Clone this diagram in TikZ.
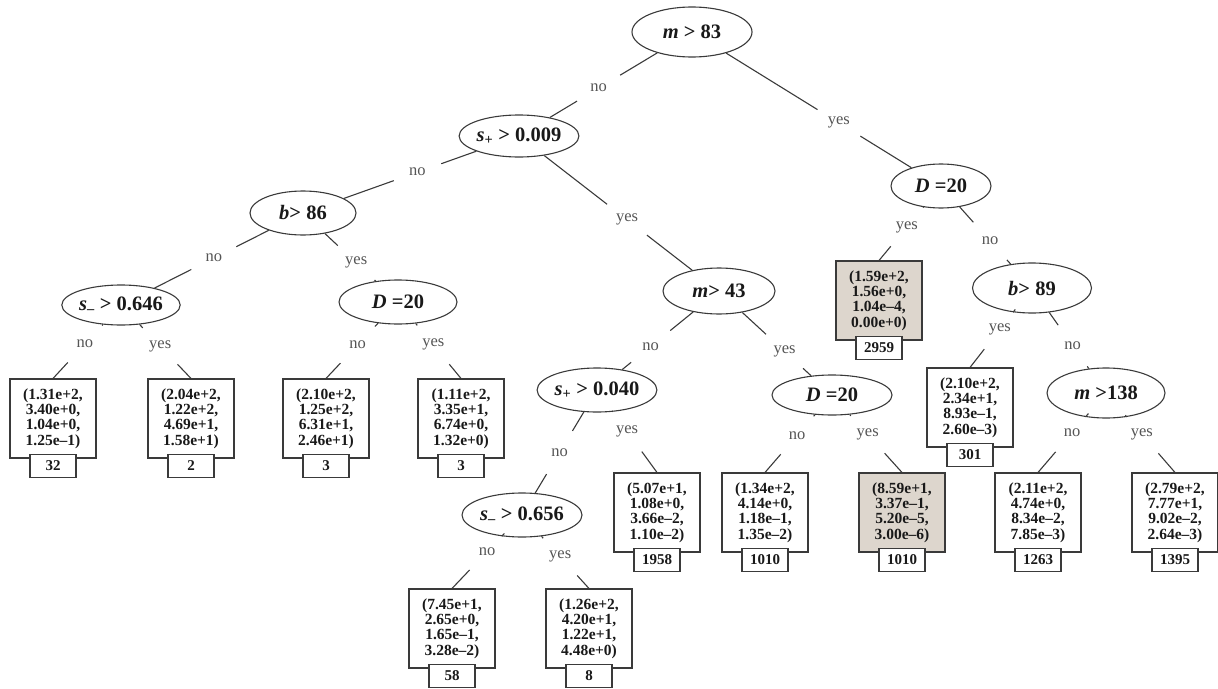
\documentclass[tikz,border=0pt]{standalone}
\usepackage{fontspec}
\setmainfont{Liberation Serif}
\usetikzlibrary{shapes.geometric,calc}
\definecolor{ln}{HTML}{3A3A3A}
\definecolor{lb}{HTML}{555555}
\definecolor{gf}{HTML}{DDD6CD}
\begin{document}
\begin{tikzpicture}[x=1pt,y=-1pt,
  cond/.style={ellipse, draw=ln, line width=1.1pt, inner sep=0pt, font=\fontsize{20.5}{23}\selectfont\bfseries, text=black!90},
  leaf/.style={draw=ln, line width=1.1pt, minimum width=86pt, minimum height=79pt, inner sep=0pt, align=center, font=\fontsize{15.5}{15.4}\selectfont\bfseries, text=black!90},
  gleaf/.style={leaf, fill=gf},
  cnt/.style={draw=ln, line width=1.1pt, fill=white, minimum width=46pt, minimum height=23pt, inner sep=0pt, font=\fontsize{15}{16}\selectfont\bfseries, text=black!90},
  lab/.style={circle, minimum size=50pt, inner sep=0pt, font=\fontsize{16.5}{18}\selectfont, text=lb},
  edge/.style={draw=ln, line width=1.1pt}]
\useasboundingbox (0,0) rectangle (1218,688);
% condition nodes
\node[cond, minimum width=120pt, minimum height=50pt] (root) at (692,32) {\textit{m} > 83};
\node[cond, minimum width=118pt, minimum height=42pt] (s009) at (519,136) {\textit{s}\textsubscript{+} > 0.009};
\node[cond, minimum width=100pt, minimum height=44pt] (Dr) at (941,186) {\textit{D} =20};
\node[cond, minimum width=106pt, minimum height=44pt] (b86) at (303,213) {\textit{b}> 86};
\node[cond, minimum width=112pt, minimum height=46pt] (m43) at (719,291) {\textit{m}> 43};
\node[cond, minimum width=117pt, minimum height=40pt] (s646) at (121,305) {\textit{s}\textsubscript{--} > 0.646};
\node[cond, minimum width=118pt, minimum height=44pt] (Dl) at (398,302) {\textit{D} =20};
\node[cond, minimum width=119pt, minimum height=50pt] (b89) at (1032,288) {\textit{b}> 89};
\node[cond, minimum width=114pt, minimum height=44pt] (s040) at (597,390) {\textit{s}\textsubscript{+} > 0.040};
\node[cond, minimum width=120pt, minimum height=40pt] (Dc) at (832,395) {\textit{D} =20};
\node[cond, minimum width=118pt, minimum height=50pt] (m138) at (1106,393) {\textit{m} >138};
\node[cond, minimum width=120pt, minimum height=44pt] (s656) at (522,515) {\textit{s}\textsubscript{--} > 0.656};
% leaves
\node[leaf] (l32) at (53,418.5) {(1.31e+2,\\3.40e+0,\\1.04e+0,\\1.25e--1)};
\node[leaf] (l2) at (191,418.5) {(2.04e+2,\\1.22e+2,\\4.69e+1,\\1.58e+1)};
\node[leaf] (l3a) at (326,418.5) {(2.10e+2,\\1.25e+2,\\6.31e+1,\\2.46e+1)};
\node[leaf] (l3b) at (461,418.5) {(1.11e+2,\\3.35e+1,\\6.74e+0,\\1.32e+0)};
\node[gleaf] (l2959) at (879,300.5) {(1.59e+2,\\1.56e+0,\\1.04e--4,\\0.00e+0)};
\node[leaf] (l301) at (970,407.5) {(2.10e+2,\\2.34e+1,\\8.93e--1,\\2.60e--3)};
\node[leaf] (l1958) at (657,512.5) {(5.07e+1,\\1.08e+0,\\3.66e--2,\\1.10e--2)};
\node[leaf] (l1010) at (765,512.5) {(1.34e+2,\\4.14e+0,\\1.18e--1,\\1.35e--2)};
\node[gleaf] (l1010g) at (902,512.5) {(8.59e+1,\\3.37e--1,\\5.20e--5,\\3.00e--6)};
\node[leaf] (l1263) at (1038,512.5) {(2.11e+2,\\4.74e+0,\\8.34e--2,\\7.85e--3)};
\node[leaf] (l1395) at (1175,512.5) {(2.79e+2,\\7.77e+1,\\9.02e--2,\\2.64e--3)};
\node[leaf] (l58) at (452,628.5) {(7.45e+1,\\2.65e+0,\\1.65e--1,\\3.28e--2)};
\node[leaf] (l8) at (589,628.5) {(1.26e+2,\\4.20e+1,\\1.22e+1,\\4.48e+0)};
% counts
\foreach \l/\n in {l32/32, l2/2, l3a/3, l3b/3, l2959/2959, l301/301, l1958/1958, l1010/1010, l1010g/1010, l1263/1263, l1395/1395, l58/58, l8/8}
  \node[cnt] (c\l) at ([yshift=-7pt]\l.south) {\n};
% edges with labels
\foreach \p/\c/\t/\w/\n in {
  root/s009/0.54/no/e1, root/Dr/0.59/yes/e2,
  s009/b86/0.47/no/e3, s009/m43/0.54/yes/e4,
  b86/s646/0.49/no/e5, b86/Dl/0.56/yes/e6,
  s646/l32.north/0.53/no/e7, s646/l2.north/0.56/yes/e8,
  Dl/l3a.north/0.56/no/e9, Dl/l3b.north/0.56/yes/e10,
  Dr/l2959.north/0.55/yes/e11, Dr/b89/0.54/no/e12,
  b89/l301.north/0.52/yes/e13, b89/m138/0.55/no/e14,
  m138/l1263.north/0.5/no/e15, m138/l1395.north/0.52/yes/e16,
  m43/s040/0.56/no/e17, m43/Dc/0.58/yes/e18,
  Dc/l1010.north/0.52/no/e19, Dc/l1010g.north/0.51/yes/e20,
  s040/s656/0.5/no/e21, s040/l1958.north/0.5/yes/e22,
  s656/l58.north/0.5/no/e23, s656/l8.north/0.57/yes/e24}
{
  \node[lab] (\n) at ($(\p)!\t!(\c)$) {\w};
  \draw[edge] (\p) -- (\n) -- (\c);
}
\end{tikzpicture}
\end{document}
